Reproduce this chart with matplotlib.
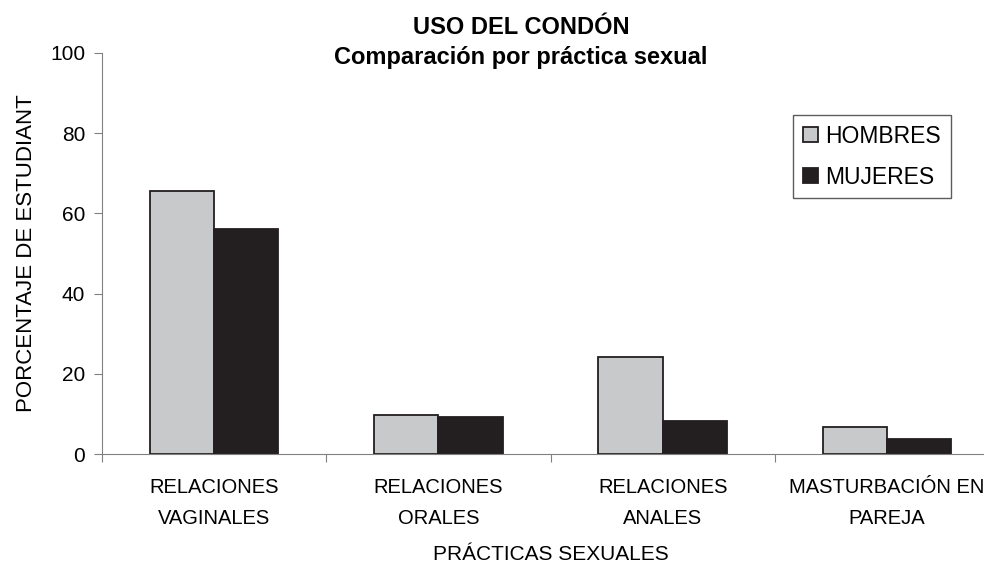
import numpy as np
import matplotlib.pyplot as plt

plt.rcParams['font.family'] = ['Liberation Sans', 'DejaVu Sans']

categorias = ['RELACIONES\nVAGINALES', 'RELACIONES\nORALES', 'RELACIONES\nANALES', 'MASTURBACIÓN EN\nPAREJA']
hombres = [65.6, 9.7, 24.1, 6.7]
mujeres = [56.1, 9.2, 8.3, 3.8]

fig = plt.figure(figsize=(9.84, 5.67), dpi=100)
ax = fig.add_axes([102 / 984, 1 - 454 / 567, 897 / 984, 401 / 567])

x = np.arange(len(categorias))
w = 0.286
ax.bar(x - w / 2, hombres, w, color='#c8c9cb', edgecolor='#231f20', linewidth=1.3, label='HOMBRES')
ax.bar(x + w / 2, mujeres, w, color='#231f20', edgecolor='#231f20', linewidth=1.3, label='MUJERES')

ax.set_xlim(-0.5, len(categorias) - 0.5)
ax.set_ylim(0, 100)
ax.set_yticks([0, 20, 40, 60, 80, 100])
ax.set_xticks(np.arange(len(categorias) + 1) - 0.5)
ax.set_xticklabels([])
ax.set_xticks(x, minor=True)
ax.set_xticklabels(categorias, minor=True, fontsize=14.5, linespacing=1.8)
ax.tick_params(axis='x', which='minor', length=0, pad=17)
ax.tick_params(axis='x', which='major', length=6, color='#808080')
ax.tick_params(axis='y', labelsize=15, length=6, color='#808080', pad=6)

for s in ['top', 'right']:
    ax.spines[s].set_visible(False)
for s in ['left', 'bottom']:
    ax.spines[s].set_color('#808080')

ax.set_ylabel('PORCENTAJE DE ESTUDIANT', fontsize=16)
ax.yaxis.set_label_coords(-0.0725, 0.5)
ax.set_xlabel('PRÁCTICAS SEXUALES', fontsize=15)
ax.xaxis.set_label_coords(0.5, -0.228)

fig.text(521 / 984, 1 - 34 / 567, 'USO DEL CONDÓN', ha='center', va='baseline', fontsize=17, fontweight='bold')
fig.text(521 / 984, 1 - 64 / 567, 'Comparación por práctica sexual', ha='center', va='baseline', fontsize=17, fontweight='bold')

leg = ax.legend(loc='upper left', bbox_to_anchor=(793 / 984, 1 - 115 / 567), bbox_transform=fig.transFigure,
                fontsize=16.5, frameon=True, fancybox=False, handlelength=0.65, handleheight=0.6,
                handletextpad=0.35, labelspacing=0.78, borderpad=0.42, borderaxespad=0)
leg.get_frame().set_edgecolor('#333333')
leg.get_frame().set_linewidth(1.0)

fig.savefig('out.png', dpi=100)
